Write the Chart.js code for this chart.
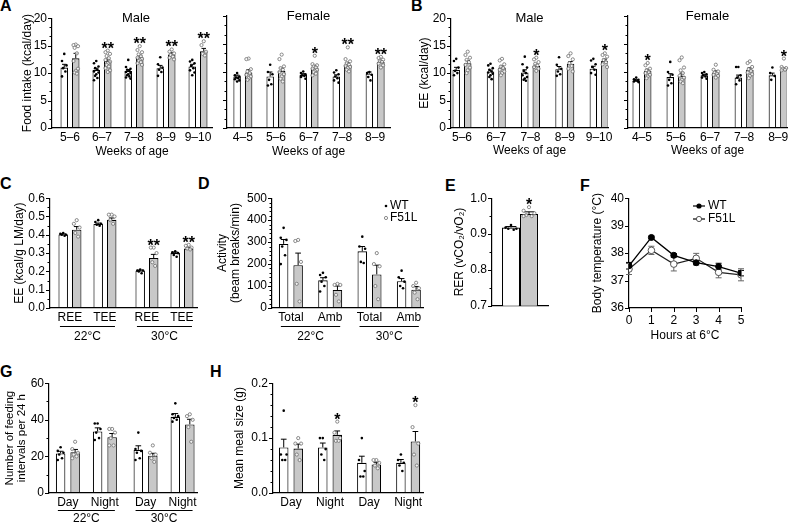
<!DOCTYPE html>
<html><head><meta charset="utf-8">
<script src="https://cdn.jsdelivr.net/npm/chart.js@4"></script>
<style>
html,body{margin:0;padding:0;background:#fff;}
body{width:789px;height:525px;position:relative;overflow:hidden;font-family:"Liberation Sans",Arial,Helvetica,sans-serif;}
.pl{position:absolute;font-weight:bold;font-size:16px;line-height:16px;color:#000;}
.cw{position:absolute;}
</style></head><body>
<div class="pl" style="left:0px;top:-2px">A</div>
<div class="pl" style="left:411px;top:-2px">B</div>
<div class="pl" style="left:0px;top:176px">C</div>
<div class="pl" style="left:198px;top:176px">D</div>
<div class="pl" style="left:445px;top:178px">E</div>
<div class="pl" style="left:580px;top:178px">F</div>
<div class="pl" style="left:0px;top:364px">G</div>
<div class="pl" style="left:210px;top:364px">H</div>
<script>
// ---------------- DATA ----------------
// Panel A: food intake (kcal/day)
const aMaleWeeks = ['5–6','6–7','7–8','8–9','9–10'];
const aMaleWT = [11.0, 10.6, 10.4, 10.9, 11.2];
const aMaleF51L = [12.7, 12.2, 12.9, 13.4, 14.0];
const aMaleWTsem = [0.6, 0.3, 0.25, 0.5, 0.4];
const aMaleF51Lsem = [0.9, 0.35, 0.3, 0.3, 0.5];
const aMaleWTdots = [[13.5,12.2,11.4,10.9,10.3,9.4],[12.2,11.8,11.2,10.9,10.6,10.3,10.1,9.8,9.5,9.1,8.7],[12.4,11.1,10.8,10.6,10.4,10.2,10.0,9.8,9.6,9.4,9.2,9.0],[12.9,11.6,11.0,10.6,10.2,9.5],[12.4,12.1,11.8,11.3,10.9,10.5,10.1,9.6]];
const aMaleF51Ldots = [[15.2,15.1,14.9,14.6,13.6,12.2,10.8,10.4,10.1,9.9],[14.1,13.8,13.5,13.1,12.7,12.4,12.1,11.8,11.5,11.2,10.9,10.5,10.2],[14.9,14.2,13.8,13.4,13.1,12.8,12.6,12.4,12.2,12.0,11.8,11.5],[14.3,13.9,13.6,13.3,13.0,12.8,12.5],[15.8,15.1,13.9,13.5,13.2]];
const aMaleStars = ['','**','**','**','**'];

const aFemaleWeeks = ['4–5','5–6','6–7','7–8','8–9'];
const aFemaleWT = [9.2, 9.2, 9.5, 9.2, 9.7];
const aFemaleF51L = [9.9, 10.2, 10.8, 11.3, 11.8];
const aFemaleWTsem = [0.25, 0.8, 0.2, 0.3, 0.3];
const aFemaleF51Lsem = [0.5, 0.5, 0.3, 0.35, 0.25];
const aFemaleWTdots = [[9.8,9.4,9.2,9.0,8.9,8.7,8.5,8.3],[11.3,10.0,9.6,8.6,7.8,7.6],[10.1,9.8,9.6,9.4,9.3,9.1,8.8],[10.3,9.9,9.6,9.2,8.9,8.5,8.1],[10.0,9.8,9.5,9.1,8.5]];
const aFemaleF51Ldots = [[12.4,12.3,10.5,10.1,9.8,9.5,9.2,8.9,8.6],[13.1,12.3,11.0,10.7,10.4,10.0,9.6,9.2,8.8,8.3],[12.9,11.4,11.2,11.0,10.8,10.6,10.4,10.2,10.0,9.7,9.4],[14.4,12.3,11.9,11.6,11.3,11.1,10.9,10.7,10.4,10.1],[12.7,12.5,12.2,12.0,11.8,11.5,11.2,10.8]];
const aFemaleStars = ['','','*','**','**'];
const abYTickLabels = ['0','5','10','15','20'];

// Panel B: energy expenditure (kcal/day)
const bMaleWeeks = ['5–6','6–7','7–8','8–9','9–10'];
const bMaleWT = [10.6, 10.3, 10.1, 10.7, 10.8];
const bMaleF51L = [11.8, 11.0, 11.3, 11.7, 12.2];
const bMaleWTsem = [0.45, 0.25, 0.5, 0.5, 0.45];
const bMaleF51Lsem = [0.5, 0.3, 0.3, 0.4, 0.35];
const bMaleWTdots = [[12.6,12.2,11.0,10.4,10.0,9.6],[11.7,11.4,10.9,10.6,10.3,10.1,9.9,9.6,9.3,8.9],[13.0,11.6,11.0,10.4,10.0,9.6,9.3,9.0,8.8,8.6],[12.9,11.5,10.8,10.3,9.8,9.5],[12.6,12.3,11.6,11.1,10.6,10.0,9.7]];
const bMaleF51Ldots = [[13.9,13.3,12.8,12.4,12.0,11.5,11.0,10.5,10.0],[12.6,12.3,11.6,11.2,10.9,10.6,10.3,10.0,9.6],[12.8,12.5,12.0,11.7,11.4,11.1,10.8,10.4],[13.6,13.1,12.5,11.8,11.3,10.8,10.3],[13.6,13.3,13.0,12.4,12.0,11.6,11.1]];
const bMaleStars = ['','','*','','*'];

const bFemaleWeeks = ['4–5','5–6','6–7','7–8','8–9'];
const bFemaleWT = [8.5, 9.1, 9.4, 9.0, 9.4];
const bFemaleF51L = [10.2, 9.3, 9.9, 10.4, 10.4];
const bFemaleWTsem = [0.12, 0.6, 0.2, 0.45, 0.4];
const bFemaleF51Lsem = [0.3, 0.5, 0.3, 0.35, 0.3];
const bFemaleWTdots = [[9.0,8.7,8.6,8.5,8.4,8.3,8.2],[11.8,10.0,9.5,8.6,8.0,7.6],[10.0,9.8,9.6,9.4,9.2,9.0,8.8],[10.9,10.9,9.4,9.0,8.5,7.8],[10.8,9.8,9.3,8.6]];
const bFemaleF51Ldots = [[11.6,11.2,10.6,10.3,10.0,9.8,9.5,9.2,8.9],[12.6,12.1,10.8,10.3,9.8,9.3,9.0,8.6,8.3,8.0],[11.3,10.4,10.1,9.9,9.7,9.5,9.3,9.0],[11.9,11.6,10.9,10.5,10.2,9.9,9.6,9.3,8.9],[12.4,10.9,10.7,10.6,10.4,10.3]];
const bFemaleStars = ['*','','','','*'];

// Panel C: EE (kcal/g LM/day)
const cCategories = ['REE','TEE','REE','TEE'];
const cWT = [0.402, 0.459, 0.204, 0.300];
const cF51L = [0.428, 0.482, 0.273, 0.325];
const cWTsem = [0.003, 0.005, 0.003, 0.005];
const cF51Lsem = [0.017, 0.01, 0.02, 0.005];
const cWTdots = [[0.41,0.405,0.40,0.40,0.395],[0.48,0.47,0.46,0.455,0.45],[0.21,0.205,0.205,0.20,0.19],[0.31,0.305,0.30,0.29,0.28]];
const cF51Ldots = [[0.48,0.46,0.44,0.41,0.39],[0.51,0.51,0.50,0.48,0.46],[0.33,0.33,0.30,0.25,0.23],[0.345,0.34,0.33,0.325,0.32]];
const cStars = ['','','**','**'];
const cYTickLabels = ['0.0','0.1','0.2','0.3','0.4','0.5','0.6'];
const tempGroups = ['22°C','30°C'];

// Panel D: activity (beam breaks/min)
const dCategories = ['Total','Amb','Total','Amb'];
const dWT = [292, 126, 258, 122];
const dF51L = [195, 82, 153, 83];
const dWTsem = [20, 12, 22, 12];
const dF51Lsem = [55, 18, 42, 15];
const dWTdots = [[365,320,310,280,240,200],[160,150,140,120,100,75],[325,280,270,210,205],[170,140,120,100,90]];
const dF51Ldots = [[310,305,210,110,30],[110,105,105,60,30],[250,200,190,100,40],[115,100,90,70,40]];
const dYTickLabels = ['0','100','200','300','400','500'];
const legendLabels = ['WT','F51L'];

// Panel E: RER
const eWT = [0.918];
const eF51L = [0.956];
const eWTsem = [0.003];
const eF51Lsem = [0.006];
const eWTdots = [[0.925,0.918,0.915,0.915,0.912]];
const eF51Ldots = [[0.975,0.965,0.958,0.953,0.95,0.95]];
const eStars = ['*'];
const eYTickLabels = ['0.7','0.8','0.9','1.0'];

// Panel F: body temperature (°C)
const fHours = [0, 1, 2, 3, 4, 5];
const fHourLabels = ['0','1','2','3','4','5'];
const fWT = [37.54, 38.57, 37.92, 37.65, 37.51, 37.27];
const fWTsem = [0.12, 0.05, 0.06, 0.08, 0.12, 0.1];
const fF51L = [37.42, 38.10, 37.60, 37.81, 37.30, 37.21];
const fF51Lsem = [0.2, 0.15, 0.25, 0.18, 0.2, 0.22];
const fYTickLabels = ['36','37','38','39','40'];

// Panel G: number of feeding intervals per 24 h
const gCategories = ['Day','Night','Day','Night'];
const gWT = [21.6, 33.6, 23.6, 41.6];
const gF51L = [22.3, 30.5, 20.4, 37.5];
const gWTsem = [1.2, 2.0, 2.2, 1.8];
const gF51Lsem = [1.5, 2.0, 1.3, 2.8];
const gWTdots = [[25,23,22,21,19,18],[38,38,35,33,30,29],[33,24,23,22,19,18],[49,43,42,41,40,39]];
const gF51Ldots = [[28,24,22,21,20,19],[35,35,33,30,26,26],[26,22,21,19,17],[43,42,40,36,28]];
const gYTickLabels = ['0','20','40','60'];

// Panel H: mean meal size (g)
const hCategories = ['Day','Night','Day','Night'];
const hWT = [0.083, 0.083, 0.055, 0.055];
const hF51L = [0.081, 0.106, 0.052, 0.094];
const hWTsem = [0.015, 0.008, 0.012, 0.006];
const hF51Lsem = [0.008, 0.007, 0.004, 0.018];
const hWTdots = [[0.15,0.07,0.07,0.06,0.06],[0.10,0.10,0.08,0.07,0.06],[0.10,0.06,0.04,0.03,0.03],[0.07,0.06,0.055,0.05,0.04]];
const hF51Ldots = [[0.10,0.09,0.09,0.07,0.06],[0.13,0.11,0.10,0.095,0.095],[0.06,0.06,0.055,0.05,0.045],[0.16,0.12,0.09,0.07,0.05]];
const hStars = ['','*','','*'];
const hYTickLabels = ['0.0','0.1','0.2'];

// ---------------- RENDERING ----------------
const FONT = '"Liberation Sans", Arial, Helvetica, sans-serif';
Chart.defaults.font.family = FONT;
Chart.defaults.color = '#000';
Chart.defaults.animation = false;
const JIT = [0, -1, 1, -0.5, 0.5, -1, 1, 0, -0.5, 0.5, -1, 1, 0, -0.5];

function buildYTicks(labels, div) {
  const v = labels.map(Number), out = [];
  for (let i = 0; i < v.length; i++) {
    out.push({value: v[i], lbl: labels[i], mj: true});
    if (i < v.length - 1) for (let k = 1; k < div; k++) out.push({value: v[i] + (v[i+1]-v[i])*k/div, lbl: '', mj: false});
  }
  return out;
}

function mount(cfg) {
  const [x0, y0, x1, y1] = cfg.area;
  const tf = cfg.yTitleFont || 12, tlh = cfg.yTitleLH || tf * 1.2;
  const left = cfg.yTitle ? Math.floor(cfg.yTitleX - tlh / 2 - 1) : Math.floor(x0 - (cfg.yW || 8));
  const top = Math.floor(y0 - (cfg.padT ?? 10));
  const padR = cfg.padR ?? 6, xH = cfg.xH ?? 32;
  const W = Math.ceil(x1 - left + padR), H = Math.ceil(y1 - top + xH);
  const wrap = document.createElement('div');
  wrap.className = 'cw';
  Object.assign(wrap.style, {left: left + 'px', top: top + 'px', width: W + 'px', height: H + 'px'});
  const cv = document.createElement('canvas');
  cv.width = W; cv.height = H; cv.style.width = W + 'px'; cv.style.height = H + 'px';
  wrap.appendChild(cv); document.body.appendChild(wrap);
  return {cv, left, top, yW: x0 - left, padT: y0 - top, padR: W - (x1 - left), xH: H - (y1 - top), tf, tlh};
}

function yScale(cfg, m) {
  const yt = buildYTicks(cfg.yTicks, cfg.minorDiv);
  return {
    type: 'linear', min: Number(cfg.yTicks[0]), max: Number(cfg.yTicks[cfg.yTicks.length-1]),
    afterBuildTicks: s => { s.ticks = yt.map(t => ({value: t.value, lbl: t.lbl, mj: t.mj})); },
    afterFit: s => { s.width = m.yW; },
    grid: {display: false, drawTicks: false},
    border: {display: true, color: '#000', width: 1.2},
    ticks: {display: cfg.showYLabels !== false, autoSkip: false, padding: 5, color: '#000',
      font: {size: 12, family: FONT}, callback: (v, i, ticks) => ticks[i].lbl},
    title: {display: !!cfg.yTitle, text: cfg.yTitle, color: '#000',
      font: {size: m.tf, family: FONT, lineHeight: m.tlh / m.tf},
      padding: {top: cfg.yTitle ? cfg.yTitleX - m.left - m.tlh / 2 : 0, bottom: 0}}
  };
}

function xScale(cfg, m) {
  const lh = 14.4;
  return {
    type: 'linear', min: cfg.xMin, max: cfg.xMax, offset: false,
    afterBuildTicks: s => { s.ticks = cfg.xPos.map(v => ({value: v})); },
    afterFit: s => { s.height = m.xH; },
    grid: {display: false, drawTicks: false, offset: false},
    border: {display: true, color: '#000', width: 1.2},
    ticks: {display: !!cfg.xLabels, autoSkip: false, maxRotation: 0, minRotation: 0, padding: cfg.xTickPad ?? 2.5,
      color: '#000', font: {size: 12, family: FONT, lineHeight: 1.2},
      callback: (v, i) => cfg.xLabels ? cfg.xLabels[i] : ''},
    title: {display: !!cfg.xTitle, text: cfg.xTitle, color: '#000', font: {size: 12, family: FONT, lineHeight: 1.2},
      padding: {top: 0, bottom: cfg.xTitle ? (cfg.area[3] + m.xH - cfg.xTitleY - lh / 2) : 0}}
  };
}

function drawYTickMarks(ctx, chart) {
  const ys = chart.scales.y, ca = chart.chartArea;
  ctx.strokeStyle = '#000'; ctx.lineWidth = 1;
  ys.ticks.forEach(t => {
    const py = Math.round(ys.getPixelForValue(t.value)) + 0.5;
    const len = t.mj ? 4 : 2.5;
    ctx.beginPath(); ctx.moveTo(ca.left - len, py); ctx.lineTo(ca.left, py); ctx.stroke();
  });
}

function barExtras(cfg, m) {
  return {
    id: 'barExtras',
    afterDatasetsDraw(chart) {
      const ctx = chart.ctx, ys = chart.scales.y, ca = chart.chartArea;
      ctx.save();
      drawYTickMarks(ctx, chart);
      const series = [
        {vals: cfg.wt, sem: cfg.wtSem, dots: cfg.wtDots},
        {vals: cfg.ko, sem: cfg.koSem, dots: cfg.koDots}
      ];
      series.forEach((s, d) => {
        const meta = chart.getDatasetMeta(d);
        meta.data.forEach((bar, i) => {
          const cx = bar.x, w = bar.width;
          const yTop = ys.getPixelForValue(s.vals[i] + s.sem[i]);
          ctx.strokeStyle = '#000'; ctx.lineWidth = 1;
          ctx.beginPath();
          ctx.moveTo(cx, ys.getPixelForValue(s.vals[i])); ctx.lineTo(cx, yTop);
          ctx.moveTo(cx - w * 0.3, yTop); ctx.lineTo(cx + w * 0.3, yTop);
          ctx.stroke();
          s.dots[i].forEach((v, k) => {
            const px = cx + JIT[k % JIT.length] * w * 0.3;
            const py = ys.getPixelForValue(v);
            ctx.beginPath();
            if (d === 0) { ctx.arc(px, py, 1.3, 0, Math.PI * 2); ctx.fillStyle = '#000'; ctx.fill(); }
            else { ctx.arc(px, py, 1.6, 0, Math.PI * 2); ctx.fillStyle = 'rgba(255,255,255,0.75)'; ctx.fill();
              ctx.strokeStyle = '#6e6e6e'; ctx.lineWidth = 0.8; ctx.stroke(); }
          });
        });
      });
      if (cfg.stars) {
        const meta = chart.getDatasetMeta(1);
        ctx.fillStyle = '#000'; ctx.font = 'bold 16px ' + FONT; ctx.textAlign = 'center'; ctx.textBaseline = 'alphabetic';
        cfg.stars.forEach((st, i) => {
          if (!st) return;
          const hi = Math.max(cfg.ko[i] + cfg.koSem[i], ...cfg.koDots[i]);
          ctx.fillText(st, meta.data[i].x, ys.getPixelForValue(hi) + 3);
        });
      }
      if (cfg.title) {
        ctx.fillStyle = '#000'; ctx.font = '13px ' + FONT; ctx.textAlign = 'center'; ctx.textBaseline = 'middle';
        ctx.fillText(cfg.title, (ca.left + ca.right) / 2 + (cfg.titleDx || 0), ca.top);
      }
      if (cfg.groups) {
        const xs = chart.scales.x;
        cfg.groups.forEach((g, gi) => {
          const a = xs.getPixelForValue(cfg.xPos[gi * 2]), b = xs.getPixelForValue(cfg.xPos[gi * 2 + 1]);
          const ly = Math.round(ca.bottom + cfg.groupLineDy) + 0.5;
          ctx.strokeStyle = '#000'; ctx.lineWidth = 1.2;
          ctx.beginPath(); ctx.moveTo(a - 10, ly); ctx.lineTo(b + 10, ly); ctx.stroke();
          ctx.fillStyle = '#000'; ctx.font = '12px ' + FONT; ctx.textAlign = 'center'; ctx.textBaseline = 'middle';
          ctx.fillText(g, (a + b) / 2, ca.bottom + cfg.groupLabelDy);
        });
      }
      if (cfg.legend) {
        ctx.font = '12px ' + FONT; ctx.textAlign = 'left'; ctx.textBaseline = 'middle';
        cfg.legend.forEach((lab, i) => {
          const lx = cfg.legendX - m.left, ly = cfg.legendY + i * 12 - m.top;
          ctx.beginPath();
          if (i === 0) { ctx.arc(lx, ly, 1.3, 0, Math.PI * 2); ctx.fillStyle = '#000'; ctx.fill(); }
          else { ctx.arc(lx, ly, 1.6, 0, Math.PI * 2); ctx.strokeStyle = '#6e6e6e'; ctx.lineWidth = 0.8; ctx.stroke(); }
          ctx.fillStyle = '#000'; ctx.fillText(lab, lx + 4, ly);
        });
      }
      ctx.restore();
    }
  };
}

function barPanel(cfg) {
  const m = mount(cfg);
  const [x0, , x1] = cfg.area;
  const ppu = (x1 - x0) / (cfg.xMax - cfg.xMin);
  let minSp = x1 - x0;
  for (let i = 1; i < cfg.xPos.length; i++) minSp = Math.min(minSp, (cfg.xPos[i] - cfg.xPos[i-1]) * ppu);
  const chunk = cfg.barW + cfg.gap;
  const catPct = 2 * chunk / minSp, barPct = cfg.barW / chunk;
  const ds = (vals, fill) => ({
    data: vals.map((v, i) => ({x: cfg.xPos[i], y: v})),
    backgroundColor: fill, borderColor: '#000', borderWidth: 1.1, borderSkipped: false,
    categoryPercentage: catPct, barPercentage: barPct
  });
  new Chart(m.cv, {
    type: 'bar',
    data: {datasets: [ds(cfg.wt, '#ffffff'), ds(cfg.ko, '#c8c8c8')]},
    options: {
      responsive: false, devicePixelRatio: 1, animation: false,
      layout: {padding: {left: 0, top: m.padT, right: m.padR, bottom: 0}},
      plugins: {legend: {display: false}, tooltip: {enabled: false}, title: {display: false}},
      scales: {x: xScale(cfg, m), y: yScale(cfg, m)}
    },
    plugins: [barExtras(cfg, m)]
  });
}

// A male
barPanel({area: [52, 16, 212, 128], yTicks: abYTickLabels, minorDiv: 3, yTitle: 'Food intake (kcal/day)', yTitleX: 28,
  xLabels: aMaleWeeks, xPos: [0,1,2,3,4], xMin: -0.5625, xMax: 4.4375, xTitle: 'Weeks of age', xTitleY: 151.5, xH: 33,
  wt: aMaleWT, ko: aMaleF51L, wtSem: aMaleWTsem, koSem: aMaleF51Lsem, wtDots: aMaleWTdots, koDots: aMaleF51Ldots,
  stars: aMaleStars, title: 'Male', titleDx: 4, barW: 7.5, gap: 4, padR: 6});
// A female
barPanel({area: [227, 16, 390, 128], yTicks: abYTickLabels, minorDiv: 3, showYLabels: false, yW: 8,
  xLabels: aFemaleWeeks, xPos: [0,1,2,3,4], xMin: -0.48, xMax: 4.45, xTitle: 'Weeks of age', xTitleY: 151.5, xH: 33,
  wt: aFemaleWT, ko: aFemaleF51L, wtSem: aFemaleWTsem, koSem: aFemaleF51Lsem, wtDots: aFemaleWTdots, koDots: aFemaleF51Ldots,
  stars: aFemaleStars, title: 'Female', barW: 7.5, gap: 4, padR: 6});
// B male
barPanel({area: [451, 16, 608, 128], yTicks: abYTickLabels, minorDiv: 3, yTitle: 'EE (kcal/day)', yTitleX: 425,
  xLabels: bMaleWeeks, xPos: [0,1,2,3,4], xMin: -0.32, xMax: 4.26, xTitle: 'Weeks of age', xTitleY: 150.5, xH: 33,
  wt: bMaleWT, ko: bMaleF51L, wtSem: bMaleWTsem, koSem: bMaleF51Lsem, wtDots: bMaleWTdots, koDots: bMaleF51Ldots,
  stars: bMaleStars, title: 'Male', barW: 7.5, gap: 4, padR: 8});
// B female
barPanel({area: [628, 16, 787, 128], yTicks: abYTickLabels, minorDiv: 3, showYLabels: false, yW: 8,
  xLabels: bFemaleWeeks, xPos: [0,1,2,3,4], xMin: -0.41, xMax: 4.26, xTitle: 'Weeks of age', xTitleY: 150.5, xH: 33,
  wt: bFemaleWT, ko: bFemaleF51L, wtSem: bFemaleWTsem, koSem: bFemaleF51Lsem, wtDots: bFemaleWTdots, koDots: bFemaleF51Ldots,
  stars: bFemaleStars, title: 'Female', barW: 7.5, gap: 4, padR: 5});
// C
barPanel({area: [50, 196, 197, 308], yTicks: cYTickLabels, minorDiv: 2, yTitle: 'EE (kcal/g LM/day)', yTitleX: 20,
  xLabels: cCategories, xPos: [0, 1, 2.2, 3.2], xMin: -0.57, xMax: 3.63, xH: 40,
  wt: cWT, ko: cF51L, wtSem: cWTsem, koSem: cF51Lsem, wtDots: cWTdots, koDots: cF51Ldots,
  stars: cStars, groups: tempGroups, groupLineDy: 18, groupLabelDy: 29, barW: 9.5, gap: 4});
// D
barPanel({area: [272, 196, 423, 308], yTicks: dYTickLabels, minorDiv: 5, yTitle: ['Activity', '(beam breaks/min)'], yTitleX: 223, yTitleLH: 13,
  xLabels: dCategories, xPos: [0, 1, 2, 3], xMin: -0.48, xMax: 3.36, xH: 40,
  wt: dWT, ko: dF51L, wtSem: dWTsem, koSem: dF51Lsem, wtDots: dWTdots, koDots: dF51Ldots,
  groups: tempGroups, groupLineDy: 18, groupLabelDy: 29, legend: legendLabels, legendX: 386, legendY: 206, barW: 9.5, gap: 5});
// E
barPanel({area: [492, 196, 548, 308], yTicks: eYTickLabels, minorDiv: 2, yTitle: 'RER (vCO₂/vO₂)', yTitleX: 460,
  xPos: [0], xMin: -1, xMax: 1, xH: 10,
  wt: eWT, ko: eF51L, wtSem: eWTsem, koSem: eF51Lsem, wtDots: eWTdots, koDots: eF51Ldots,
  stars: eStars, barW: 18, gap: 0});
// G
barPanel({area: [49, 381, 197, 493], yTicks: gYTickLabels, minorDiv: 2, yTitle: ['Number of feeding', 'intervals per 24 h'], yTitleX: 10, yTitleFont: 11.5, yTitleLH: 12,
  xLabels: gCategories, xPos: [0, 1, 2.1, 3.1], xMin: -0.51, xMax: 3.49, xH: 32,
  wt: gWT, ko: gF51L, wtSem: gWTsem, koSem: gF51Lsem, wtDots: gWTdots, koDots: gF51Ldots,
  groups: tempGroups, groupLineDy: 16.5, groupLabelDy: 25.5, barW: 9.5, gap: 5});
// H
barPanel({area: [273, 381, 423, 493], yTicks: hYTickLabels, minorDiv: 5, yTitle: 'Mean meal size (g)', yTitleX: 240,
  xLabels: hCategories, xPos: [0, 1, 2, 3], xMin: -0.46, xMax: 3.38, xH: 32,
  wt: hWT, ko: hF51L, wtSem: hWTsem, koSem: hF51Lsem, wtDots: hWTdots, koDots: hF51Ldots,
  stars: hStars, barW: 9.5, gap: 5});

// F: line chart
(function () {
  const cfg = {area: [629, 196, 741, 308], yTicks: fYTickLabels, minorDiv: 1, yTitle: 'Body temperature (°C)', yTitleX: 598,
    xLabels: fHourLabels, xPos: fHours, xMin: 0, xMax: 5, xTitle: 'Hours at 6°C', xTitleY: 336, xH: 36, padR: 12, xTickPad: 5};
  const m = mount(cfg);
  const extras = {
    id: 'lineExtras',
    beforeDatasetsDraw(chart) {
      const ctx = chart.ctx, ys = chart.scales.y, xs = chart.scales.x;
      ctx.save();
      [[fWT, fWTsem, '#000'], [fF51L, fF51Lsem, '#666']].forEach(([vals, sem, col]) => {
        ctx.strokeStyle = col; ctx.lineWidth = 1;
        vals.forEach((v, i) => {
          const px = xs.getPixelForValue(fHours[i]);
          const a = ys.getPixelForValue(v + sem[i]), b = ys.getPixelForValue(v - sem[i]);
          ctx.beginPath(); ctx.moveTo(px, a); ctx.lineTo(px, b);
          ctx.moveTo(px - 3, a); ctx.lineTo(px + 3, a); ctx.moveTo(px - 3, b); ctx.lineTo(px + 3, b); ctx.stroke();
        });
      });
      ctx.restore();
    },
    afterDatasetsDraw(chart) {
      const ctx = chart.ctx, xs = chart.scales.x, ca = chart.chartArea;
      ctx.save();
      drawYTickMarks(ctx, chart);
      ctx.strokeStyle = '#000'; ctx.lineWidth = 1;
      fHours.forEach(h => {
        const px = Math.round(xs.getPixelForValue(h)) + 0.5;
        ctx.beginPath(); ctx.moveTo(px, ca.bottom); ctx.lineTo(px, ca.bottom + 4); ctx.stroke();
      });
      ctx.font = '12px ' + FONT; ctx.textAlign = 'left'; ctx.textBaseline = 'middle';
      legendLabels.forEach((lab, i) => {
        const ly = 206 + i * 13 - m.top, lx = 693 - m.left;
        ctx.strokeStyle = '#000'; ctx.lineWidth = 1.2;
        ctx.beginPath(); ctx.moveTo(lx, ly); ctx.lineTo(lx + 12, ly); ctx.stroke();
        ctx.beginPath(); ctx.arc(lx + 6, ly, 2.6, 0, Math.PI * 2);
        ctx.fillStyle = i === 0 ? '#000' : '#fff'; ctx.fill();
        if (i === 1) { ctx.strokeStyle = '#444'; ctx.lineWidth = 0.9; ctx.stroke(); }
        ctx.fillStyle = '#000'; ctx.fillText(lab, lx + 15, ly);
      });
      ctx.restore();
    }
  };
  new Chart(m.cv, {
    type: 'line',
    data: {datasets: [
      {data: fHours.map((h, i) => ({x: h, y: fWT[i]})), borderColor: '#000', borderWidth: 1.3, pointRadius: 3,
        pointBackgroundColor: '#000', pointBorderColor: '#000', pointBorderWidth: 1, tension: 0},
      {data: fHours.map((h, i) => ({x: h, y: fF51L[i]})), borderColor: '#222', borderWidth: 1.2, pointRadius: 3.3,
        pointBackgroundColor: '#fff', pointBorderColor: '#444', pointBorderWidth: 0.9, tension: 0}
    ]},
    options: {
      responsive: false, devicePixelRatio: 1, animation: false,
      layout: {padding: {left: 0, top: m.padT, right: m.padR, bottom: 0}},
      plugins: {legend: {display: false}, tooltip: {enabled: false}},
      scales: {x: xScale(cfg, m), y: yScale(cfg, m)}
    },
    plugins: [extras]
  });
})();
</script>
</body></html>
